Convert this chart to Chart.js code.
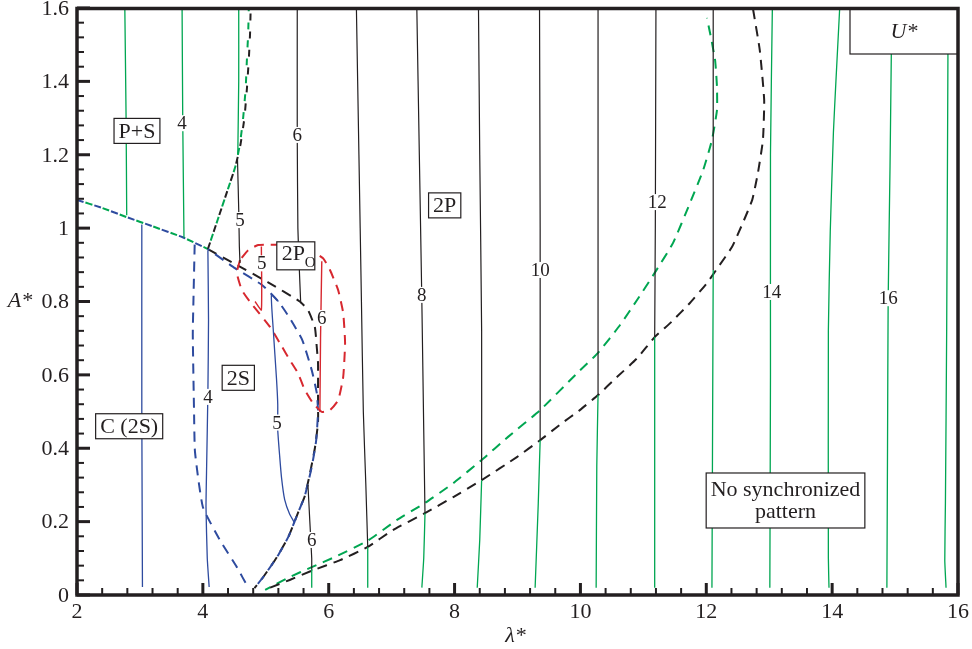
<!DOCTYPE html>
<html>
<head>
<meta charset="utf-8">
<script src="https://cdn.jsdelivr.net/npm/chart.js@4.4.1/dist/chart.umd.min.js"></script>
<style>
  html, body { margin: 0; padding: 0; background: #fff; }
  #wrap { width: 972px; height: 649px; }
</style>
</head>
<body>
<div id="wrap"><canvas id="phaseMap" width="972" height="649"></canvas></div>
<script>
// U* contours and wake-regime boundaries over (lambda*, A*)
const xTicks = [2, 4, 6, 8, 10, 12, 14, 16];
const yTicks = [0, 0.2, 0.4, 0.6, 0.8, 1, 1.2, 1.4, 1.6];

// solid U* contours, [lambda*, A*] pairs -- green: P+S and unsynchronized parts
const gU3 = [[2.76, 1.6], [2.78, 1.3], [2.79, 1.035]];
const gU4 = [[3.67, 1.6], [3.68, 1.3], [3.70, 0.973]];
const gU5 = [[4.57, 1.6], [4.57, 1.4], [4.555, 1.2]];
const gU6 = [[5.73, 0.07], [5.73, 0.02]];
const gU7 = [[6.62, 0.131], [6.62, 0.02]];
const gU8 = [[7.53, 0.223], [7.51, 0.10], [7.48, 0.02]];
const gU9 = [[8.43, 0.313], [8.40, 0.15], [8.36, 0.02]];
const gU10 = [[9.36, 0.422], [9.33, 0.25], [9.28, 0.02]];
const gU11 = [[10.28, 0.545], [10.26, 0.35], [10.25, 0.02]];
const gU12 = [[11.18, 0.703], [11.18, 0.02]];
const gU13 = [[12.11, 0.886], [12.09, 0.02]];
const gU14 = [[13.05, 1.6], [13.02, 1.2], [13.02, 0.6], [13.01, 0.02]];
const gU15 = [[14.12, 1.6], [14.06, 1.4], [14.02, 1.26], [13.97, 0.99], [13.94, 0.72], [13.94, 0.1], [13.95, 0.02]];
const gU16 = [[14.95, 1.6], [14.94, 1.47], [14.92, 1.17], [14.89, 0.8], [14.88, 0.4], [14.87, 0.02]];
const gU17 = [[15.84, 1.6], [15.84, 1.47], [15.82, 0.72], [15.80, 0.25], [15.79, 0.095], [15.81, 0.02]];

// black: 2P
const kU5 = [[4.55, 1.19], [4.57, 1.05], [4.58, 0.95], [4.59, 0.905]];
const kU6 = [[5.50, 1.6], [5.50, 1.25], [5.51, 1.0], [5.53, 0.9], [5.555, 0.795]];
const kU6b = [[5.67, 0.30], [5.70, 0.2], [5.73, 0.1], [5.73, 0.066]];
const kU7 = [[6.44, 1.6], [6.48, 1.2], [6.52, 0.8], [6.55, 0.5], [6.59, 0.3], [6.62, 0.131]];
const kU8 = [[7.40, 1.6], [7.44, 1.2], [7.48, 0.8], [7.51, 0.45], [7.53, 0.223]];
const kU9 = [[8.38, 1.6], [8.40, 1.2], [8.43, 0.72], [8.43, 0.313]];
const kU10 = [[9.35, 1.6], [9.36, 1.0], [9.36, 0.422]];
const kU11 = [[10.28, 1.6], [10.28, 0.545]];
const kU12 = [[11.20, 1.6], [11.19, 1.0], [11.18, 0.703]];
const kU13 = [[12.11, 1.6], [12.11, 0.886]];

// blue: C (2S) and 2S
const bU3 = [[3.03, 1.01], [3.03, 0.5], [3.04, 0.022]];
const bU4 = [[4.08, 0.94], [4.09, 0.75], [4.08, 0.55], [4.06, 0.35], [4.05, 0.24], [4.07, 0.10], [4.10, 0.022]];
const bU5 = [[5.20, 0.80], [5.09, 0.818], [5.12, 0.72], [5.17, 0.59], [5.19, 0.52], [5.19, 0.45], [5.22, 0.38],
             [5.25, 0.32], [5.30, 0.26], [5.38, 0.22], [5.46, 0.196]];

// red: 2Po
const rU5 = [[4.83, 0.80], [4.93, 0.777], [4.93, 0.95]];
const rU6 = [[5.89, 0.91], [5.87, 0.70], [5.86, 0.499]];

// dashed regime boundaries
const psEdge = [[2.0, 1.077], [2.4, 1.055], [2.79, 1.03], [3.2, 1.005], [3.68, 0.975], [4.08, 0.943]];
const psRiseG = [[4.08, 0.943], [4.24, 1.025], [4.40, 1.107], [4.52, 1.17], [4.59, 1.23], [4.64, 1.30],
                 [4.68, 1.38], [4.70, 1.46], [4.72, 1.53], [4.73, 1.60]];
const psRiseK = [[4.08, 0.943], [4.24, 1.025], [4.40, 1.107], [4.52, 1.17], [4.60, 1.23], [4.66, 1.30],
                 [4.70, 1.38], [4.73, 1.46], [4.75, 1.53], [4.76, 1.60]];
const twoSLeft = [[3.87, 0.955], [3.85, 0.80], [3.84, 0.71], [3.86, 0.5], [3.875, 0.39], [4.0, 0.24],
                  [4.27, 0.15], [4.54, 0.076], [4.72, 0.02]];
const twoSRight = [[4.08, 0.943], [4.51, 0.891], [4.94, 0.845], [5.2, 0.80], [5.38, 0.755], [5.58, 0.695],
                   [5.73, 0.613], [5.81, 0.551], [5.83, 0.50], [5.80, 0.42], [5.73, 0.349], [5.62, 0.27],
                   [5.51, 0.223], [5.36, 0.159], [5.18, 0.104], [4.96, 0.049], [4.82, 0.019]];
const twoPEdge = [[4.08, 0.943], [4.48, 0.905], [5.03, 0.853], [5.54, 0.80], [5.67, 0.777], [5.78, 0.73],
                  [5.81, 0.676], [5.83, 0.632], [5.83, 0.55], [5.83, 0.47], [5.78, 0.40], [5.70, 0.33],
                  [5.62, 0.27], [5.51, 0.223], [5.36, 0.159], [5.18, 0.104], [4.96, 0.049], [4.82, 0.019]];
const twoPoLoop = [[4.59, 0.913], [4.54, 0.878], [4.62, 0.831], [4.75, 0.799], [5.07, 0.730], [5.26, 0.676],
                   [5.38, 0.641], [5.51, 0.605], [5.62, 0.559], [5.75, 0.523], [5.89, 0.499], [6.02, 0.504],
                   [6.15, 0.531], [6.23, 0.594], [6.26, 0.687], [6.23, 0.769], [6.15, 0.831], [6.02, 0.886],
                   [5.91, 0.918], [5.70, 0.94], [5.38, 0.954], [5.04, 0.955], [4.88, 0.954], [4.72, 0.94],
                   [4.59, 0.913]];
const syncEdgeG = [[4.99, 0.014], [5.38, 0.049], [5.73, 0.076], [6.13, 0.106], [6.62, 0.148], [7.08, 0.204],
                   [7.53, 0.251], [7.98, 0.305], [8.43, 0.368], [8.85, 0.431], [9.36, 0.504], [9.95, 0.605],
                   [10.28, 0.66], [10.63, 0.736], [10.90, 0.804], [11.18, 0.878], [11.47, 0.959], [11.74, 1.068],
                   [11.95, 1.158], [12.09, 1.24], [12.17, 1.322], [12.17, 1.385], [12.14, 1.458], [12.06, 1.532],
                   [12.01, 1.573]];
const syncEdgeK = [[5.07, 0.02], [5.38, 0.041], [5.73, 0.066], [6.18, 0.095], [6.62, 0.131], [7.02, 0.177],
                   [7.53, 0.223], [7.98, 0.267], [8.43, 0.313], [8.99, 0.376], [9.36, 0.422], [9.68, 0.465],
                   [9.99, 0.504], [10.28, 0.545], [10.58, 0.594], [10.90, 0.645], [11.18, 0.703], [11.45, 0.745],
                   [11.74, 0.796], [12.01, 0.85], [12.19, 0.894], [12.41, 0.949], [12.58, 1.014], [12.73, 1.077],
                   [12.82, 1.15], [12.90, 1.24], [12.92, 1.349], [12.85, 1.485], [12.74, 1.6]];

// contour values written on the lines: [text, lambda*, A*]
const contourLabels = [
  ['4', 3.67, 1.286], ['5', 4.59, 1.022], ['6', 5.50, 1.254], ['5', 4.935, 0.904], ['6', 5.89, 0.755],
  ['8', 7.48, 0.818], ['10', 9.36, 0.886], ['12', 11.22, 1.071], ['14', 13.04, 0.826], ['16', 14.89, 0.809],
  ['4', 4.08, 0.54], ['5', 5.18, 0.47], ['6', 5.73, 0.15]
];
// boxed regime names: [lines, lambda*, A*]
const regionLabels = [
  [['P+S'], 2.953, 1.265], [['2P'], 7.843, 1.062], [['C (2S)'], 2.829, 0.46], [['2S'], 4.563, 0.592],
  [['No synchronized', 'pattern'], 13.259, 0.2576]
];
const twoPoLabel = [5.477, 0.9245];

const GREEN = '#00a651', BLACK = '#231f20', BLUE = '#2e4b9f', RED = '#d7282f';
const SERIF = '"Liberation Serif", "Times New Roman", serif';

function curve(points, color, width, dash, offset) {
  return {
    data: points.map(p => ({ x: p[0], y: p[1] })),
    showLine: true,
    borderColor: color,
    borderWidth: width,
    borderDash: dash || [],
    borderDashOffset: offset || 0,
    pointRadius: 0,
    tension: 0.15,
    fill: false
  };
}

const DASH = [10, 7];
const SHARED = [7, 11];
const datasets = [];
[gU3, gU4, gU5, gU6, gU7, gU8, gU9, gU10, gU11, gU12, gU13, gU14, gU15, gU16, gU17]
  .forEach(c => datasets.push(curve(c, GREEN, 1.3)));
[kU5, kU6, kU6b, kU7, kU8, kU9, kU10, kU11, kU12, kU13]
  .forEach(c => datasets.push(curve(c, BLACK, 1.2)));
[bU3, bU4, bU5].forEach(c => datasets.push(curve(c, BLUE, 1.3)));
[rU5, rU6].forEach(c => datasets.push(curve(c, RED, 1.4)));
datasets.push(curve(twoPoLoop, RED, 2, DASH));
datasets.push(curve(syncEdgeK, BLACK, 2, DASH));
datasets.push(curve(syncEdgeG, GREEN, 2, DASH, 4));
datasets.push(curve(twoSLeft, BLUE, 2, DASH));
datasets.push(curve(twoSRight, BLUE, 2, DASH, 8));
datasets.push(curve(twoPEdge, BLACK, 2, DASH));
// overlapping boundaries: the two colours take turns along the dash pattern
datasets.push(curve(psRiseK, BLACK, 2, SHARED));
datasets.push(curve(psRiseG, GREEN, 2, SHARED, 9));
datasets.push(curve(psEdge, BLUE, 2, SHARED));
datasets.push(curve(psEdge, GREEN, 2, SHARED, 9));

// inward ticks, frame, tick labels and the text boxes
const annotate = {
  id: 'annotate',
  afterDatasetsDraw(chart) {
    const { ctx, scales: { x, y }, chartArea: a } = chart;
    ctx.save();
    ctx.textAlign = 'center';
    ctx.textBaseline = 'middle';
    ctx.fillStyle = BLACK;

    // numbers on the contour lines
    ctx.font = '19px ' + SERIF;
    contourLabels.forEach(([t, lx, ly]) => {
      const px = x.getPixelForValue(lx), py = y.getPixelForValue(ly);
      const w = ctx.measureText(t).width + 2;
      ctx.fillStyle = '#fff';
      ctx.fillRect(px - w / 2, py - 8, w, 16);
      ctx.fillStyle = BLACK;
      ctx.fillText(t, px, py + 1);
    });

    // boxed regime names
    ctx.font = '22px ' + SERIF;
    ctx.lineWidth = 1.2;
    ctx.strokeStyle = BLACK;
    regionLabels.forEach(([lines, lx, ly]) => {
      const px = x.getPixelForValue(lx), py = y.getPixelForValue(ly);
      const w = Math.max(...lines.map(t => ctx.measureText(t).width)) + 9;
      const lh = 22;
      const h = lines.length === 1 ? 25 : lines.length * lh + 11;
      ctx.fillStyle = '#fff';
      ctx.fillRect(px - w / 2, py - h / 2, w, h);
      ctx.strokeRect(px - w / 2, py - h / 2, w, h);
      ctx.fillStyle = BLACK;
      lines.forEach((t, i) => ctx.fillText(t, px, py + (i - (lines.length - 1) / 2) * lh + 1));
    });

    // 2P with subscript O
    {
      const px = x.getPixelForValue(twoPoLabel[0]), py = y.getPixelForValue(twoPoLabel[1]);
      const w = 38, h = 28;
      ctx.fillStyle = '#fff';
      ctx.fillRect(px - w / 2, py - h / 2, w, h);
      ctx.strokeRect(px - w / 2, py - h / 2, w, h);
      ctx.fillStyle = BLACK;
      ctx.textAlign = 'left';
      ctx.font = '22px ' + SERIF;
      ctx.fillText('2P', px - 14, py - 2);
      ctx.font = '15px ' + SERIF;
      ctx.fillText('O', px + 9, py + 7);
      ctx.textAlign = 'center';
    }

    // contour variable key in the top-right corner
    {
      const w = 108, h = 46;
      ctx.fillStyle = '#fff';
      ctx.fillRect(a.right - w, a.top, w, h);
      ctx.strokeRect(a.right - w, a.top, w, h);
      ctx.fillStyle = BLACK;
      ctx.font = 'italic 22px ' + SERIF;
      ctx.fillText('U*', a.right - w / 2, a.top + h / 2 + 1);
    }
    ctx.restore();
  },
  afterDraw(chart) {
    const { ctx, scales: { x, y }, chartArea: a } = chart;
    const seg = (x0, y0, x1, y1) => { ctx.beginPath(); ctx.moveTo(x0, y0); ctx.lineTo(x1, y1); ctx.stroke(); };
    ctx.save();
    ctx.strokeStyle = BLACK;
    ctx.fillStyle = BLACK;

    // major ticks at the labelled values, four minors between
    xTicks.forEach((v, i) => {
      const px = x.getPixelForValue(v);
      ctx.lineWidth = 3;
      seg(px, a.bottom, px, a.bottom - 12);
      if (i < xTicks.length - 1) {
        const step = (xTicks[i + 1] - v) / 5;
        ctx.lineWidth = 2;
        for (let k = 1; k < 5; k++) {
          const m = x.getPixelForValue(v + k * step);
          seg(m, a.bottom, m, a.bottom - 7);
        }
      }
    });
    yTicks.forEach((v, i) => {
      const py = y.getPixelForValue(v);
      ctx.lineWidth = 3;
      seg(a.left, py, a.left + 13, py);
      if (i < yTicks.length - 1) {
        const step = (yTicks[i + 1] - v) / 5;
        ctx.lineWidth = 2;
        for (let k = 1; k < 5; k++) {
          const m = y.getPixelForValue(v + k * step);
          seg(a.left, m, a.left + 7, m);
        }
      }
    });

    ctx.lineWidth = 3.5;
    ctx.strokeRect(a.left, a.top + 0.5, a.right - a.left, a.bottom - a.top - 0.5);

    ctx.font = '22px ' + SERIF;
    ctx.textBaseline = 'middle';
    ctx.textAlign = 'center';
    xTicks.forEach(v => ctx.fillText(String(v), x.getPixelForValue(v), a.bottom + 17));
    ctx.textAlign = 'right';
    yTicks.forEach(v => ctx.fillText(String(+v.toFixed(1)), a.left - 8, y.getPixelForValue(v) + 1));

    ctx.font = 'italic 22px ' + SERIF;
    ctx.textAlign = 'center';
    ctx.fillText('A*', a.left - 57, (a.top + a.bottom) / 2);
    ctx.fillText('\u03bb*', (a.left + a.right) / 2 - 2, a.bottom + 41);
    ctx.restore();
  }
};

new Chart(document.getElementById('phaseMap').getContext('2d'), {
  type: 'scatter',
  data: { datasets: datasets },
  options: {
    responsive: false,
    animation: false,
    layout: { padding: { left: 77, right: 14, top: 8, bottom: 54 } },
    plugins: { legend: { display: false }, tooltip: { enabled: false } },
    scales: {
      x: { type: 'linear', min: 2, max: 16, display: false },
      y: { type: 'linear', min: 0, max: 1.6, display: false }
    }
  },
  plugins: [annotate]
});
</script>
</body>
</html>
